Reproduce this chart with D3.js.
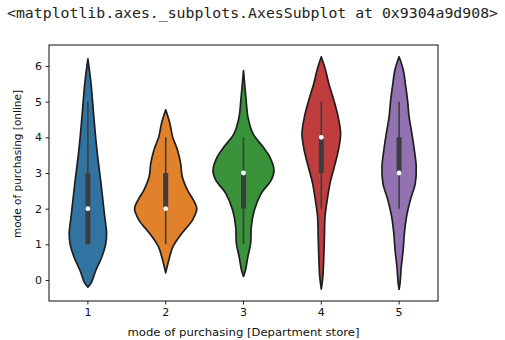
<!DOCTYPE html>
<html>
<head>
<meta charset="utf-8">
<script src="https://cdn.jsdelivr.net/npm/d3@7"></script>
<style>
  body { margin: 0; background: #fff; }
  text { font-family: "DejaVu Sans", sans-serif; fill: #111; }
</style>
</head>
<body>
<div id="chart"></div>
<script>
// categories and colours
const categories = [1, 2, 3, 4, 5];
const colors = ["#3274a1", "#e1812c", "#3a923a", "#c03d3e", "#9372b2"];
const yTicks = [0, 1, 2, 3, 4, 5, 6];

// violin outlines: [value, relative width]
const shape1 = [[6.2, 0], [5.51, 0.10], [4.58, 0.19], [3.64, 0.29], [2.71, 0.42], [1.78, 0.54],
                [1.3, 0.60], [1.0, 0.57], [0.65, 0.45], [0.28, 0.26], [-0.09, 0.1], [-0.2, 0]];
const shape2 = [[4.77, 0], [4.39, 0.135], [4.02, 0.22], [3.64, 0.38], [3.27, 0.48], [2.9, 0.53],
                [2.52, 0.70], [2.24, 0.89], [2.01, 1.0], [1.68, 0.86], [1.31, 0.52], [0.93, 0.23],
                [0.56, 0.1], [0.2, 0]];
const shape3 = [[5.87, 0], [5.05, 0.084], [4.58, 0.14], [4.11, 0.30], [3.74, 0.62], [3.46, 0.84],
                [3.08, 0.98], [2.8, 0.89], [2.43, 0.57], [1.96, 0.35], [1.49, 0.25], [1.03, 0.23],
                [0.65, 0.14], [0.28, 0.065], [0.1, 0]];
const shape4 = [[6.26, 0], [5.89, 0.135], [5.51, 0.24], [5.05, 0.40], [4.58, 0.54], [4.11, 0.62],
                [3.64, 0.55], [3.18, 0.42], [2.71, 0.28], [2.24, 0.19], [1.78, 0.12], [1.21, 0.1],
                [0.65, 0.08], [0.09, 0.05], [-0.26, 0]];
const shape5 = [[6.26, 0], [5.89, 0.135], [5.51, 0.2], [5.05, 0.27], [4.58, 0.32], [4.11, 0.41],
                [3.64, 0.49], [3.18, 0.55], [2.71, 0.52], [2.24, 0.36], [1.78, 0.24], [1.31, 0.17],
                [0.84, 0.13], [0.37, 0.07], [-0.09, 0.03], [-0.26, 0]];
const shapes = [shape1, shape2, shape3, shape4, shape5];

// inner box stats
const q1 = [1, 2, 2, 3, 3];
const q3 = [3, 3, 3, 4, 4];
const medians = [2, 2, 3, 4, 3];
const whiskLo = [1, 1, 1, 2, 2];
const whiskHi = [5, 4, 4, 5, 5];

const W = 505, H = 340;
const margin = {top: 45, right: 67, bottom: 39, left: 49},
      width = W - margin.left - margin.right,
      height = H - margin.top - margin.bottom;

const root = d3.select("#chart").append("svg")
    .attr("width", W)
    .attr("height", H);

// notebook output line above the figure
root.append("text")
    .attr("x", 7)
    .attr("y", 18)
    .attr("textLength", 491)
    .attr("lengthAdjust", "spacingAndGlyphs")
    .style("font-family", "'DejaVu Sans Mono', 'Liberation Mono', monospace")
    .style("font-size", "14.5px")
    .style("fill", "#222")
    .text("<matplotlib.axes._subplots.AxesSubplot at 0x9304a9d908>");

const svg = root.append("g")
    .attr("transform", `translate(${margin.left},${margin.top})`);

const x = d3.scaleBand()
    .domain(categories)
    .range([0, width])
    .padding(0);

const y = d3.scaleLinear()
    .domain([-0.59, 6.59])
    .range([height, 0]);

const half = x.bandwidth() * 0.4;

// violins
shapes.forEach((s, i) => {
    const cx = x(categories[i]) + x.bandwidth() / 2;
    const area = d3.area()
        .y(d => y(d[0]))
        .x0(d => cx - d[1] * half)
        .x1(d => cx + d[1] * half)
        .curve(d3.curveCatmullRom);
    svg.append("path")
        .datum(s)
        .attr("d", area)
        .attr("fill", colors[i])
        .attr("stroke", "#1e1e1e")
        .attr("stroke-width", 1.7)
        .attr("stroke-linejoin", "round");

    // whisker
    svg.append("line")
        .attr("x1", cx).attr("x2", cx)
        .attr("y1", y(whiskLo[i])).attr("y2", y(whiskHi[i]))
        .attr("stroke", "#3d3d3d")
        .attr("stroke-width", 1.6);
    // box
    svg.append("line")
        .attr("x1", cx).attr("x2", cx)
        .attr("y1", y(q1[i])).attr("y2", y(q3[i]))
        .attr("stroke", "#3d3d3d")
        .attr("stroke-width", 5);
    // median
    svg.append("circle")
        .attr("cx", cx)
        .attr("cy", y(medians[i]))
        .attr("r", 2.4)
        .attr("fill", "#fff");
});

// axes
const xAxis = svg.append("g")
    .attr("transform", `translate(0,${height})`)
    .call(d3.axisBottom(x).tickSizeOuter(0).tickSize(3.5).tickPadding(3.5));
const yAxis = svg.append("g")
    .call(d3.axisLeft(y).tickValues(yTicks).tickSizeOuter(0).tickSize(3.5).tickPadding(3.5));

[xAxis, yAxis].forEach(g => {
    g.select(".domain").remove();
    g.selectAll("line").attr("stroke", "#222").attr("stroke-width", 1);
    g.selectAll("text")
        .style("font-family", "'DejaVu Sans', sans-serif")
        .style("font-size", "11px")
        .attr("fill", "#222");
});

// frame
svg.append("rect")
    .attr("width", width)
    .attr("height", height)
    .attr("fill", "none")
    .attr("stroke", "#222")
    .attr("stroke-width", 1.1);

// labels
svg.append("text")
    .attr("x", width / 2 - 116)
    .attr("y", height + 35)
    .attr("textLength", 232)
    .attr("lengthAdjust", "spacingAndGlyphs")
    .style("font-size", "10.8px")
    .text("mode of purchasing [Department store]");

svg.append("text")
    .attr("transform", "rotate(-90)")
    .attr("x", -(height / 2) + 9)
    .attr("y", -28)
    .attr("text-anchor", "middle")
    .style("font-size", "10.5px")
    .text("mode of purchasing [online]");
</script>
</body>
</html>
